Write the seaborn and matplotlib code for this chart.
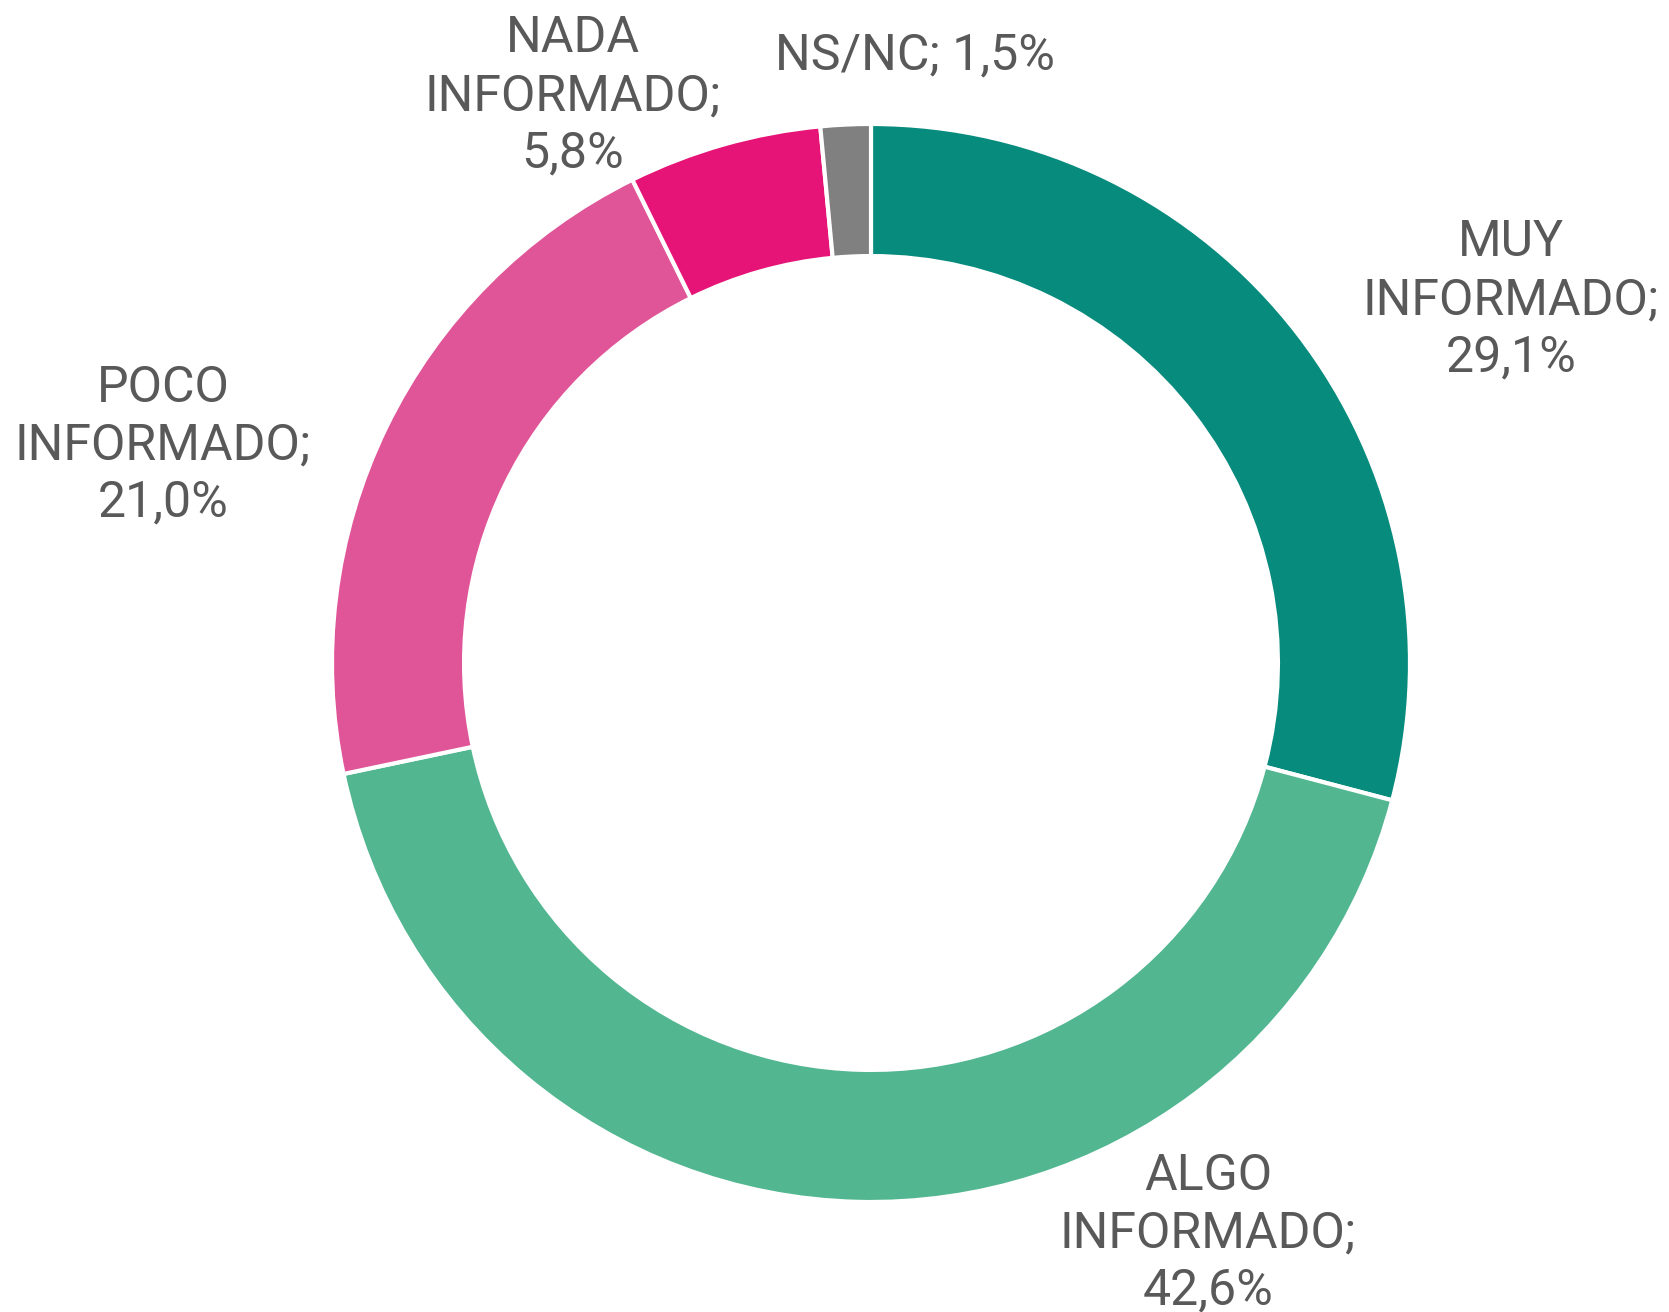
import matplotlib
matplotlib.use("Agg")
import matplotlib.pyplot as plt
import seaborn as sns

# Data
categories = ["MUY\nINFORMADO", "ALGO\nINFORMADO", "POCO\nINFORMADO", "NADA\nINFORMADO", "NS/NC"]
values = [29.1, 42.6, 21.0, 5.8, 1.5]
colors = ["#078B7D", "#52B690", "#E05597", "#E61477", "#808080"]

sns.set_theme(style="white")
plt.rcParams['font.family'] = ['Roboto', 'DejaVu Sans']

W, H = 1669, 1312
fig = plt.figure(figsize=(W / 100, H / 100), dpi=100)
ax = fig.add_axes([0, 0, 1, 1])
ax.set_aspect('equal')

# donut, clockwise from the top
cx, cy, r = 871, H - 663, 539
ax.pie(values, colors=colors, startangle=90, counterclock=False,
       center=(cx, cy), radius=r, frame=True,
       wedgeprops=dict(width=r * 0.245, edgecolor='white', linewidth=3))
ax.set_xlim(0, W)
ax.set_ylim(0, H)
ax.axis('off')

# label positions (pixel coords, from top)
label_pos = [(1511, 300), (1208, 1233), (163, 445), (573, 96), (915, 55)]
for name, v, (x, y) in zip(categories, values, label_pos):
    txt = f"{name}; {v:.1f}%" if "\n" not in name else f"{name};\n{v:.1f}%"
    txt = txt.replace('.', ',')
    ax.text(x, H - y, txt, ha='center', va='center', fontsize=36,
            color='#595959', linespacing=1.25)

fig.savefig("out.png", dpi=100)
